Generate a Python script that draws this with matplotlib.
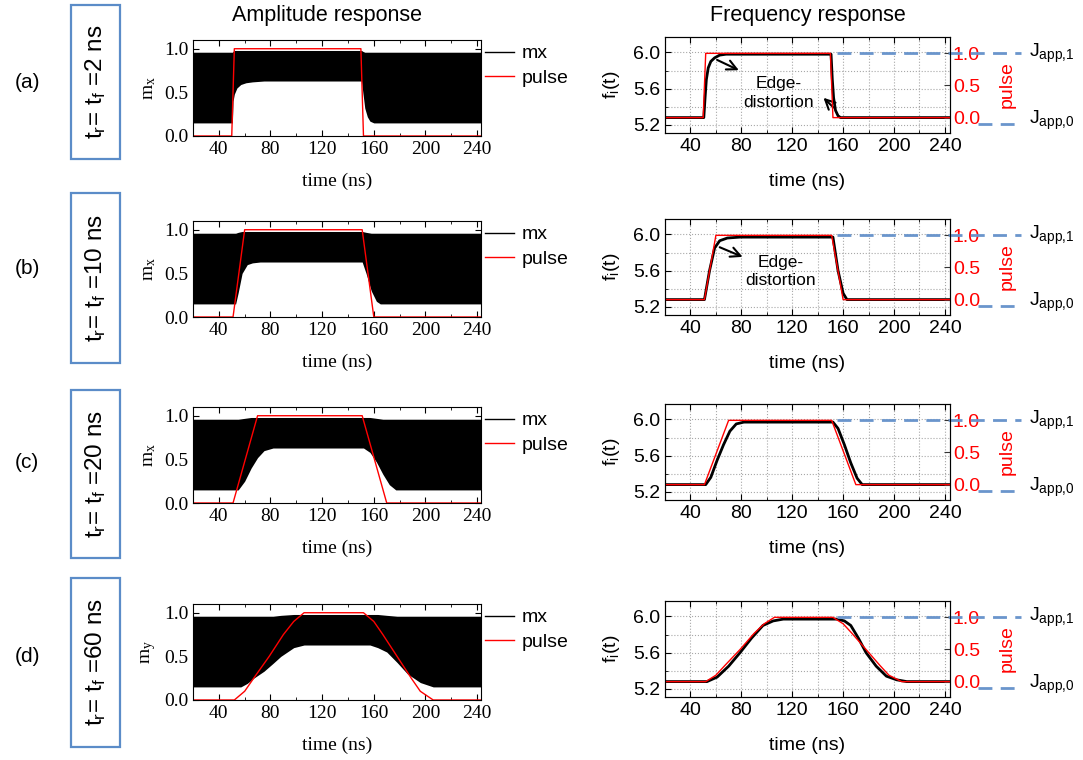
import matplotlib
matplotlib.use('Agg')
import matplotlib.pyplot as plt
from matplotlib.patches import Rectangle
from matplotlib.lines import Line2D

# ---- data ----
row_tags = ['(a)', '(b)', '(c)', '(d)']
rise_times = ['2', '10', '20', '60']
amp_ylabels = ['x', 'x', 'x', 'y']

# pulse shape, same for both columns
pulse_t = [
    [20, 50, 52, 150, 152, 244],
    [20, 51, 60, 151, 160, 244],
    [20, 51, 70, 151, 170, 244],
    [20, 52, 60, 67, 79, 90, 98, 106, 152, 160, 167, 178, 189, 196, 206, 244],
]
pulse_v = [
    [0, 0, 1, 1, 0, 0],
    [0, 0, 1, 1, 0, 0],
    [0, 0, 1, 1, 0, 0],
    [0, 0, 0.1, 0.25, 0.5, 0.75, 0.9, 1, 1, 0.9, 0.75, 0.5, 0.25, 0.1, 0, 0],
]

# envelope of the fast mx oscillation
env_t = [
    [20, 50.5, 51, 52, 54, 57, 61, 66, 75, 150.5, 151.5, 153, 155, 157, 160, 244],
    [20, 53, 55, 58, 62, 66, 72, 151, 154, 158, 162, 165, 244],
    [20, 55, 60, 65, 70, 75, 82, 152, 157, 162, 167, 172, 177, 244],
    [20, 57, 62, 67, 75, 82, 88, 98, 106, 157, 163, 170, 178, 186, 196, 206, 244],
]
env_lo = [
    [0.15, 0.15, 0.40, 0.48, 0.55, 0.59, 0.61, 0.62, 0.63, 0.63, 0.50, 0.32, 0.22, 0.17, 0.15, 0.15],
    [0.15, 0.15, 0.28, 0.50, 0.60, 0.62, 0.63, 0.63, 0.50, 0.30, 0.18, 0.15, 0.15],
    [0.15, 0.15, 0.25, 0.40, 0.52, 0.60, 0.63, 0.63, 0.58, 0.47, 0.33, 0.21, 0.15, 0.15],
    [0.15, 0.15, 0.19, 0.25, 0.33, 0.42, 0.50, 0.60, 0.63, 0.63, 0.60, 0.55, 0.43, 0.30, 0.20, 0.15, 0.15],
]
env_hi = [
    [0.96, 0.96, 0.97, 0.98, 0.98, 0.98, 0.98, 0.98, 0.98, 0.98, 0.97, 0.96, 0.96, 0.96, 0.96, 0.96],
    [0.96, 0.96, 0.97, 0.98, 0.98, 0.98, 0.98, 0.98, 0.97, 0.96, 0.96, 0.96, 0.96],
    [0.96, 0.96, 0.97, 0.98, 0.98, 0.98, 0.98, 0.98, 0.98, 0.97, 0.96, 0.96, 0.96, 0.96],
    [0.96, 0.96, 0.96, 0.96, 0.96, 0.96, 0.97, 0.98, 0.98, 0.98, 0.98, 0.97, 0.96, 0.96, 0.96, 0.96, 0.96],
]

# instantaneous frequency f_i(t)
freq_t = [
    [20, 50.5, 51.5, 52.5, 54, 56, 59, 63, 68, 150.5, 151.5, 152.5, 154, 156, 158, 244],
    [20, 51, 55, 59, 63, 69, 79, 152, 156, 160, 163, 244],
    [20, 52, 56, 61, 66, 71, 76, 82, 152, 156, 161, 166, 171, 175, 244],
    [20, 53, 61, 70, 79, 88, 97, 105, 113, 155, 161, 166, 172, 178, 186, 194, 202, 210, 244],
]
freq_v = [
    [5.28, 5.28, 5.50, 5.70, 5.83, 5.90, 5.94, 5.97, 5.98, 5.98, 5.70, 5.50, 5.36, 5.30, 5.28, 5.28],
    [5.28, 5.28, 5.60, 5.85, 5.93, 5.96, 5.97, 5.97, 5.60, 5.35, 5.28, 5.28],
    [5.28, 5.28, 5.36, 5.55, 5.72, 5.87, 5.95, 5.97, 5.97, 5.90, 5.72, 5.52, 5.35, 5.28, 5.28],
    [5.28, 5.28, 5.33, 5.45, 5.60, 5.76, 5.90, 5.95, 5.97, 5.97, 5.95, 5.90, 5.76, 5.60, 5.45, 5.34, 5.30, 5.28, 5.28],
]

# J_app guide lines (pulse-axis units)
j1_x = [155, 300]
j0_x = [266, 296]
j0_y = -0.1

# ---- layout ----
W, H = 1083, 760
serif = 'Liberation Serif'
sans = 'Liberation Sans'
plt.rcParams['font.family'] = sans
blue = '#6a95cc'
box_col = '#5b8cc8'

fig = plt.figure(figsize=(W / 100, H / 100), dpi=100)


def rect(left, top, right, bottom):
    return [left / W, 1 - bottom / H, (right - left) / W, (bottom - top) / H]


amp_top = [40, 221, 407, 604]
frq_top = [37, 219, 404, 601]
box_y = [(5, 159), (193, 363), (390, 558), (578, 747)]
tag_y = [82, 268, 463, 657]

fig.text(327 / W, 1 - 15 / H, 'Amplitude response', ha='center', va='center', fontsize=15.5)
fig.text(808 / W, 1 - 15 / H, 'Frequency response', ha='center', va='center', fontsize=15.5)

for i in range(4):
    # row tag and boxed rise time
    fig.text(27 / W, 1 - tag_y[i] / H, row_tags[i], ha='center', va='center', fontsize=15)
    y0, y1 = box_y[i]
    fig.patches.append(Rectangle((71 / W, 1 - y1 / H), 49 / W, (y1 - y0) / H,
                                 transform=fig.transFigure, fill=False,
                                 edgecolor=box_col, lw=1.6))
    fig.text(96 / W, 1 - (y0 + y1) / 2 / H,
             r't$\mathregular{_r}$= t$\mathregular{_f}$ =' + rise_times[i] + ' ns',
             rotation=90, ha='center', va='center', fontsize=17.5)

    # amplitude response
    ax = fig.add_axes(rect(193, amp_top[i], 481, amp_top[i] + 96))
    ax.fill_between(env_t[i], env_lo[i], env_hi[i], color='black', lw=0)
    ax.plot(pulse_t[i], pulse_v[i], color='red', lw=1.0)
    ax.set_xlim(20, 243)
    ax.set_ylim(0, 1.1)
    ax.set_xticks([40, 80, 120, 160, 200, 240])
    ax.set_xticks(range(20, 244, 20), minor=True)
    ax.set_yticks([0, 0.5, 1.0])
    ax.set_yticklabels(['0.0', '0.5', '1.0'])
    ax.tick_params(which='both', direction='in', top=True, right=True, length=4,
                   labelsize=14)
    ax.tick_params(which='minor', length=2.5)
    for lab in ax.get_xticklabels() + ax.get_yticklabels():
        lab.set_fontfamily(serif)
    ax.set_xlabel('time (ns)', family=serif, fontsize=14)
    ax.xaxis.set_label_coords(0.5, -0.38)
    ax.set_ylabel(r'm$\mathregular{_' + amp_ylabels[i] + '}$', family=serif, fontsize=14)
    ax.yaxis.set_label_coords(-0.12, 0.5)
    handles = [Line2D([], [], color='black', lw=1), Line2D([], [], color='red', lw=1)]
    ax.legend(handles, ['mx', 'pulse'], loc='upper left', bbox_to_anchor=(1.0, 0.99),
              frameon=False, fontsize=14, handlelength=1.5, handletextpad=0.4,
              labelspacing=0.35, borderaxespad=0.0, borderpad=0.2)

    # frequency response
    ax = fig.add_axes(rect(665, frq_top[i], 950, frq_top[i] + 96))
    ax.plot(freq_t[i], freq_v[i], color='black', lw=2.0, zorder=3)
    ax.set_xlim(20, 244)
    ax.set_ylim(5.11, 6.17)
    ax.set_xticks([40, 80, 120, 160, 200, 240])
    ax.set_xticks(range(20, 244, 20), minor=True)
    ax.set_yticks([5.2, 5.6, 6.0])
    ax.set_yticks([5.4, 5.8], minor=True)
    ax.grid(which='both', ls=':', color='#a8a8a8', lw=0.8)
    ax.tick_params(which='both', direction='in', top=True, length=4, labelsize=14)
    ax.tick_params(which='minor', length=2.5)
    for s in ax.spines.values():
        s.set_color('#333333')
    ax.set_xlabel('time (ns)', fontsize=14)
    ax.xaxis.set_label_coords(0.5, -0.42)
    ax.set_ylabel(r'f$\mathregular{_i}$(t)', fontsize=14)
    ax.yaxis.set_label_coords(-0.15, 0.5)

    ax2 = ax.twinx()
    ax2.plot(pulse_t[i], pulse_v[i], color='red', lw=1.0, zorder=2)
    ax2.set_ylim(-0.239, 1.254)
    ax2.set_yticks([0, 0.5, 1.0])
    ax2.set_yticklabels(['0.0', '0.5', '1.0'])
    ax2.tick_params(direction='in', length=4, colors='red', labelsize=14, pad=2)
    ax2.tick_params(axis='y', color='#333333')
    ax2.set_ylabel('pulse', color='red', fontsize=14)
    ax2.yaxis.set_label_coords(1.17, 0.5)
    ax2.plot(j1_x, [1, 1], ls='--', dashes=(5, 3), color=blue, lw=2, clip_on=False)
    ax2.plot(j0_x, [j0_y, j0_y], ls='--', dashes=(5, 3), color=blue, lw=2, clip_on=False)
    ax2.text(306, 1.0, r'J$\mathregular{_{app{,}1}}$', fontsize=14, va='center')
    ax2.text(306, -0.04, r'J$\mathregular{_{app{,}0}}$', fontsize=14, va='center')

    arrow = dict(arrowstyle='->,head_length=0.7,head_width=0.35', lw=1.5, color='black')
    if i == 0:
        ax.text(109, 5.55, 'Edge-\ndistortion', ha='center', va='center', fontsize=12.5,
                linespacing=1.3)
        ax.annotate('', xy=(80, 5.79), xytext=(59, 5.93), arrowprops=arrow)
        ax.annotate('', xy=(143, 5.52), xytext=(154, 5.37), arrowprops=arrow)
    if i == 1:
        ax.text(111, 5.59, 'Edge-\ndistortion', ha='center', va='center', fontsize=12.5,
                linespacing=1.3)
        ax.annotate('', xy=(83, 5.74), xytext=(61, 5.87), arrowprops=arrow)

fig.savefig('out.png', dpi=100)
